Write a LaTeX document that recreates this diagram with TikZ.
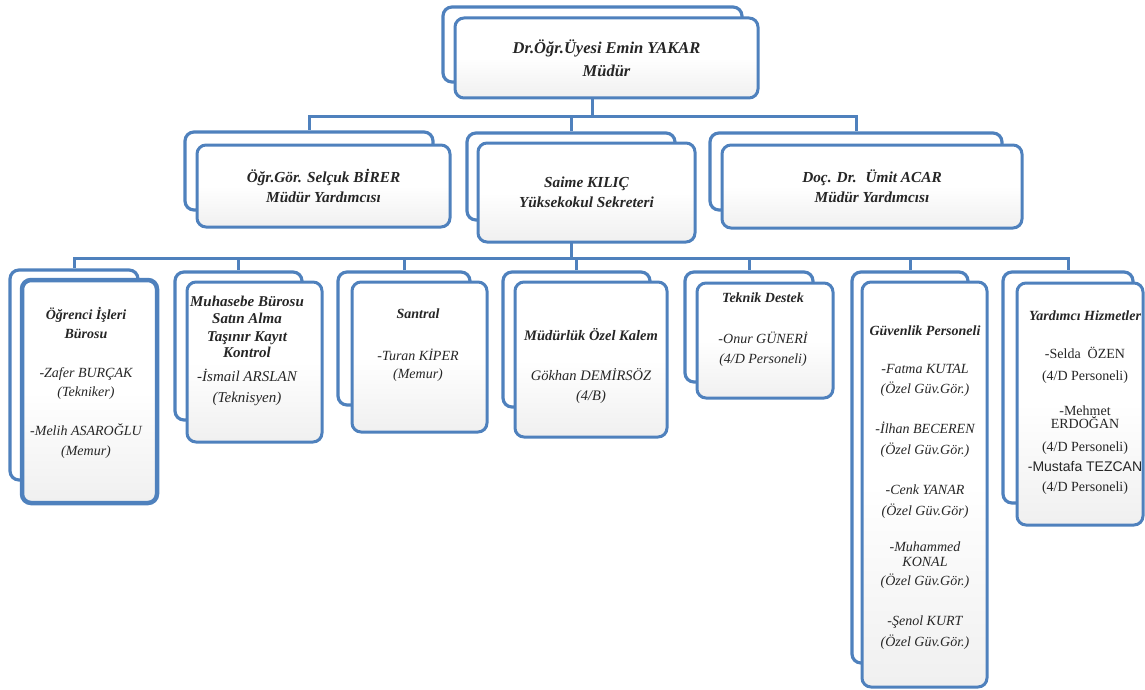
\documentclass[tikz,border=0pt]{standalone}
\usepackage{fontspec}
\setmainfont{Liberation Serif}
\newfontfamily\sansf{Liberation Sans}
\usepackage{tikz}
\definecolor{orgblue}{RGB}{79,129,189}
\pgfdeclarelayer{bg}
\pgfsetlayers{bg,main}

\begin{document}
\begin{tikzpicture}[x=1pt,y=-1pt,
    backbox/.style={draw=orgblue,line width=3.2pt,rounded corners=9pt,fill=white},
    frontbox/.style={draw=orgblue,line width=3pt,rounded corners=9pt,top color=white,bottom color=black!6,middle color=white,align=center,text=black!85},
    conn/.style={draw=orgblue,line width=3pt},
    txt/.style={align=center,inner sep=0pt,anchor=north,text=black!85,execute at begin node=\strut,
        font=\fontsize{14}{18.5}\selectfont\itshape}]
    \useasboundingbox (0,0) rectangle (1145,690);

    % top
    \node[backbox,minimum width=299pt,minimum height=75pt] (dirb) at (592.5,44.5) {};
    \node[frontbox,minimum width=303pt,minimum height=80pt,font=\fontsize{16.5}{23}\selectfont\bfseries\itshape] (dirf) at (606.5,58) {Dr.Öğr.Üyesi Emin YAKAR\\Müdür};

    % middle row
    \node[backbox,minimum width=248pt,minimum height=78pt] (selb) at (309,171) {};
    \node[frontbox,minimum width=253pt,minimum height=82pt,font=\fontsize{15.3}{19.5}\selectfont\bfseries\itshape] (self) at (323.5,186) {Öğr.Gör. Selçuk BİRER\\Müdür Yardımcısı};
    \node[backbox,minimum width=208pt,minimum height=87pt] (saib) at (571,176.5) {};
    \node[frontbox,minimum width=217pt,minimum height=99pt,font=\fontsize{15.3}{20}\selectfont\bfseries\itshape] (saif) at (586.5,192.5) {Saime KILIÇ\\Yüksekokul Sekreteri};
    \node[backbox,minimum width=292pt,minimum height=77pt] (umib) at (856,171.5) {};
    \node[frontbox,minimum width=300pt,minimum height=83pt,font=\fontsize{15.3}{20}\selectfont\bfseries\itshape] (umif) at (872,186.5) {Doç. Dr.~ Ümit ACAR\\Müdür Yardımcısı};

    % bottom row boxes
    \node[backbox,minimum width=128pt,minimum height=210pt] (ogrb) at (74,375) {};
    \node[frontbox,line width=4.5pt,minimum width=135pt,minimum height=223pt] (ogrf) at (89.5,391.5) {};
    \node[backbox,minimum width=127pt,minimum height=148pt] (muhb) at (238.5,346) {};
    \node[frontbox,minimum width=135pt,minimum height=160pt] (muhf) at (254.5,362) {};
    \node[backbox,minimum width=132pt,minimum height=133pt] (sanb) at (404,338.5) {};
    \node[frontbox,minimum width=135pt,minimum height=150pt] (sanf) at (419.5,357) {};
    \node[backbox,minimum width=147pt,minimum height=135pt] (ozlb) at (576.5,339.5) {};
    \node[frontbox,minimum width=152pt,minimum height=155pt] (ozlf) at (591,359.5) {};
    \node[backbox,minimum width=128pt,minimum height=110pt] (tekb) at (749,327) {};
    \node[frontbox,minimum width=136pt,minimum height=115pt] (tekf) at (765,340.5) {};
    \node[backbox,minimum width=116pt,minimum height=391pt] (guvb) at (910,467.5) {};
    \node[frontbox,minimum width=125pt,minimum height=405pt] (guvf) at (924.5,484.5) {};
    \node[backbox,minimum width=130pt,minimum height=231pt] (yrdb) at (1068,387.5) {};
    \node[frontbox,minimum width=126pt,minimum height=242pt] (yrdf) at (1080,404) {};

    % bottom row texts
    \node[txt] (ogrt) at (86,306.7) {\textbf{Öğrenci İşleri}\\[0.5pt]\textbf{Bürosu}\\[21pt]-Zafer BURÇAK\\(Tekniker)\\[21pt]-Melih ASAROĞLU\\[1.5pt](Memur)};
    \node[txt,font=\fontsize{15}{18.5}\selectfont\itshape] (muht) at (247,295.7) {\textbf{Muhasebe Bürosu}\\[-1pt]\textbf{Satın Alma}\\[-0.5pt]\textbf{Taşınır Kayıt}\\[-3pt]\textbf{Kontrol}\\[6pt]-İsmail ARSLAN\\[2pt](Teknisyen)};
    \node[txt] (sant) at (418,308.7) {\textbf{Santral}\\[23pt]-Turan KİPER\\(Memur)};
    \node[txt,font=\fontsize{14.5}{18.5}\selectfont\itshape] (ozlt) at (591,328.7) {\textbf{Müdürlük Özel Kalem}\\[21pt]Gökhan DEMİRSÖZ\\[1.5pt](4/B)};
    \node[txt] (tekt) at (763,292.7) {\textbf{Teknik Destek}\\[22pt]-Onur GÜNERİ\\[2pt](4/D Personeli)};
    \node[txt] (guvt) at (925,325.7) {\textbf{Güvenlik Personeli}\\[19pt]-Fatma KUTAL\\[1.5pt](Özel Güv.Gör.)\\[22pt]-İlhan BECEREN\\[2pt](Özel Güv.Gör.)\\[22pt]-Cenk YANAR\\[2pt](Özel Güv.Gör)\\[18pt]-Muhammed\\[-3.5pt]KONAL\\[0pt](Özel Güv.Gör.)\\[22pt]-Şenol KURT\\[2pt](Özel Güv.Gör.)};
    \node[txt] (yrdt) at (1085,310.7) {\textbf{Yardımcı Hizmetler}\\[19.5pt]\upshape -Selda~ ÖZEN\\[3.5pt]\upshape (4/D Personeli)\\[16.5pt]\upshape -Mehmet\\[-5.5pt]\upshape ERDOĞAN\\[4.5pt]\upshape (4/D Personeli)\\[1.5pt]\sansf\upshape -Mustafa TEZCAN\\[1.5pt]\upshape (4/D Personeli)};

    % connectors
    \coordinate (topbus) at (592.5,117);
    \coordinate (botbus) at (571,258);
    \begin{pgfonlayer}{bg}
        \draw[conn] (dirb) -- (topbus);
        \draw[conn] (selb.north) |- (topbus) -| (umib.north);
        \draw[conn] (saib.north) -- (saib.north |- topbus);
        \draw[conn] (saib) -- (botbus);
        \draw[conn] (ogrb.north) |- (botbus) -| (yrdb.north);
        \foreach \b in {muhb,sanb,ozlb,tekb,guvb}
            \draw[conn] (\b.north) -- (\b.north |- botbus);
    \end{pgfonlayer}
\end{tikzpicture}
\end{document}
